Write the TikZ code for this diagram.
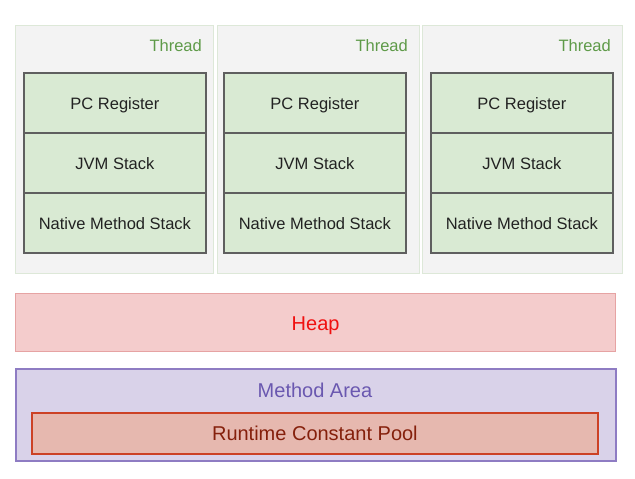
\documentclass[tikz,border=0pt]{standalone}
\usepackage{fontspec}
\setmainfont{Liberation Sans}
\begin{document}
\begin{tikzpicture}[x=1pt,y=-1pt,
  threadbox/.style={draw=threadline,fill=threadfill,line width=1pt,
    minimum height=248pt,anchor=north west,inner sep=0pt},
  threadlabel/.style={text=threadtext,font=\fontsize{16.5}{18}\selectfont,anchor=east,inner sep=0pt},
  cell/.style={draw=cellline,fill=cellfill,line width=1.8pt,
    minimum width=182pt,minimum height=60pt,anchor=north west,inner sep=0pt,
    text height=18pt,text depth=4pt,
    font=\fontsize{16.5}{18}\selectfont,text=celltext},
  heapbox/.style={draw=heapline,fill=heapfill,line width=1.3pt,
    minimum width=600pt,minimum height=58pt,anchor=north west,inner sep=0pt,
    text height=20pt,text depth=4pt,
    font=\fontsize{20}{22}\selectfont,text=heaptext},
  areabox/.style={draw=arealine,fill=areafill,line width=1.6pt,
    minimum width=600pt,minimum height=92pt,anchor=north west,inner sep=0pt},
  arealabel/.style={text=areatext,font=\fontsize{20}{22}\selectfont,inner sep=0pt},
  poolbox/.style={draw=poolline,fill=poolfill,line width=1.8pt,
    minimum width=566pt,minimum height=41pt,anchor=north west,inner sep=0pt,
    font=\fontsize{20}{22}\selectfont,text=pooltext}]
\definecolor{threadline}{HTML}{DDE8D8}
\definecolor{threadfill}{HTML}{F3F3F3}
\definecolor{threadtext}{HTML}{5E9A48}
\definecolor{cellline}{HTML}{5F5F5F}
\definecolor{cellfill}{HTML}{D9EAD3}
\definecolor{celltext}{HTML}{222222}
\definecolor{heapline}{HTML}{E6A3A3}
\definecolor{heapfill}{HTML}{F4CCCC}
\definecolor{heaptext}{HTML}{F01010}
\definecolor{arealine}{HTML}{8E7CC3}
\definecolor{areafill}{HTML}{D9D2E9}
\definecolor{areatext}{HTML}{6A58B0}
\definecolor{poolline}{HTML}{CC4125}
\definecolor{poolfill}{HTML}{E6B8AF}
\definecolor{pooltext}{HTML}{85200C}

\useasboundingbox[fill=white] (0,0) rectangle (635,479);

% three thread columns, each with its private memory areas
% (outer left x / outer width / inner left x)
\foreach \i/\x/\w/\c in {1/15/198/23,2/217/202/223,3/422/200/430}{
  \node[threadbox,minimum width=\w pt] (thread\i) at (\x,25) {};
  \node[threadlabel] (tlabel\i) at ([xshift=-12pt,yshift=-21pt]thread\i.north east) {Thread};
  \node[cell] (pc\i) at (\c,72) {PC Register};
  \node[cell] (jvm\i) at (\c,132) {JVM Stack};
  \node[cell] (native\i) at (\c,192) {Native Method Stack};
}

% shared areas
\node[heapbox] (heap) at (15,293) {Heap};
\node[areabox] (area) at (15,368) {};
\node[arealabel] (arealbl) at (315,390) {Method Area};
\node[poolbox] (pool) at (31,412) {Runtime Constant Pool};
\end{tikzpicture}
\end{document}
